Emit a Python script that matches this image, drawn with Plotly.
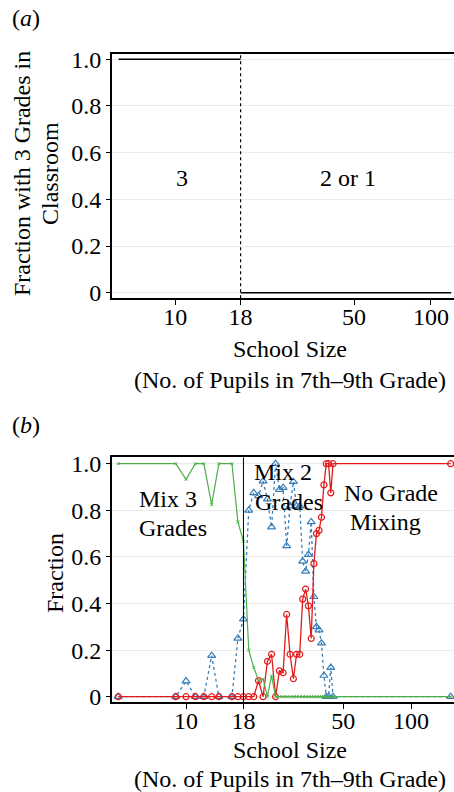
import plotly.graph_objects as go

W, H = 454, 792
FONT = "Liberation Serif, Times New Roman, serif"
FS = 24

# ---- panel (a): classroom composition vs. school size ----
threshold_size = 18
a_three_sizes = [6, 18]
a_three_frac = [1, 1]
a_other_sizes = [18, 120]
a_other_frac = [0, 0]

# ---- panel (b): fraction of schools by grade-mixing regime ----
sizes = [5, 9, 10, 11, 12, 13, 14, 16, 17, 18, 19, 20, 21, 22, 23, 24, 25,
         26, 27, 28, 29, 30, 31, 32, 33, 34, 35, 36, 37, 38, 39, 40, 41, 42,
         43, 44, 45, 150]
mix3 = [1, 1, 0.933, 1, 1, 0.824, 1, 1, 0.75, 0.667, 0.2, 0.125, 0.069,
        0.075, 0, 0.09, 0, 0, 0, 0, 0, 0, 0, 0, 0, 0, 0, 0, 0, 0, 0, 0, 0, 0,
        0, 0, 0, 0]
mix2 = [0, 0, 0.067, 0, 0, 0.176, 0, 0, 0.25, 0.333, 0.8, 0.875, 0.862,
        0.925, 0.848, 0.728, 1, 0.889, 0.897, 0.647, 0.818, 0.923, 0.818,
        0.818, 0.581, 0.538, 0.61, 0.75, 0.429, 0.3, 0.286, 0.23, 0.091, 0,
        0, 0.125, 0, 0]
nomix = [0, 0, 0, 0, 0, 0, 0, 0, 0, 0, 0, 0, 0.069, 0, 0.152, 0.182, 0,
         0.111, 0.103, 0.353, 0.182, 0.077, 0.182, 0.182, 0.419, 0.462, 0.39,
         0.25, 0.571, 0.7, 0.714, 0.77, 0.909, 1, 1, 0.875, 1, 1]

x_tickvals = [10, 18, 50, 100]
y_tickvals = [0, 0.2, 0.4, 0.6, 0.8, 1.0]
y_ticktext = ["0", "0.2", "0.4", "0.6", "0.8", "1.0"]

RED = "#E41A1C"
BLUE = "#377EB8"
GREEN = "#4DAF4A"

a_yrange = [-0.024, 1.0227]
b_yrange = [-0.024, 1.0275]

fig = go.Figure()

# panel (a)
fig.add_trace(go.Scatter(x=a_three_sizes, y=a_three_frac, mode="lines",
                         line=dict(color="black", width=1.6),
                         xaxis="x", yaxis="y", showlegend=False))
fig.add_trace(go.Scatter(x=a_other_sizes, y=a_other_frac, mode="lines",
                         line=dict(color="black", width=1.6),
                         xaxis="x", yaxis="y", showlegend=False))
fig.add_trace(go.Scatter(x=[threshold_size, threshold_size], y=a_yrange,
                         mode="lines",
                         line=dict(color="black", width=1.2, dash="dot"),
                         xaxis="x", yaxis="y", showlegend=False))

# panel (b)
fig.add_trace(go.Scatter(x=sizes, y=mix2, mode="lines+markers",
                         line=dict(color=BLUE, width=1.3, dash="dot"),
                         marker=dict(symbol="triangle-up-open", size=7,
                                     color=BLUE, line=dict(width=1.2)),
                         xaxis="x2", yaxis="y2", showlegend=False))
fig.add_trace(go.Scatter(x=sizes, y=nomix, mode="lines+markers",
                         line=dict(color=RED, width=1.3),
                         marker=dict(symbol="circle-open", size=6,
                                     color=RED, line=dict(width=1.2)),
                         xaxis="x2", yaxis="y2", showlegend=False))
fig.add_trace(go.Scatter(x=sizes, y=mix3, mode="lines+markers",
                         line=dict(color=GREEN, width=1.2),
                         marker=dict(symbol="x-thin", size=3,
                                     color=GREEN,
                                     line=dict(width=1, color=GREEN)),
                         xaxis="x2", yaxis="y2", showlegend=False))
fig.add_trace(go.Scatter(x=[threshold_size, threshold_size], y=b_yrange,
                         mode="lines", line=dict(color="black", width=1),
                         xaxis="x2", yaxis="y2", showlegend=False))

xdom = [112 / W, 1.0]
common_x = dict(type="log", tickvals=x_tickvals,
                ticktext=[str(v) for v in x_tickvals],
                showline=True, linecolor="black", linewidth=1.6, mirror=True,
                ticks="outside", ticklen=5, tickcolor="black", tickwidth=1,
                ticklabelstandoff=-9,
                showgrid=False, zeroline=False, automargin=False,
                tickfont=dict(family=FONT, size=FS, color="black"))
common_y = dict(tickvals=y_tickvals, ticktext=y_ticktext,
                showline=True, linecolor="black", linewidth=2,
                ticks="outside", ticklen=4, tickcolor="black", tickwidth=1,
                showgrid=True, gridcolor="#ebebeb", gridwidth=1,
                zeroline=False, automargin=False,
                tickfont=dict(family=FONT, size=FS, color="black"))

fig.update_layout(
    template="none",
    width=W, height=H,
    margin=dict(l=0, r=0, t=0, b=0, pad=0, autoexpand=False),
    paper_bgcolor="white", plot_bgcolor="white",
    hovermode=False,
    xaxis=dict(domain=xdom, anchor="y", range=[0.7524, 2.090], **common_x),
    yaxis=dict(domain=[1 - 298.3 / H, 1 - 54 / H], anchor="x",
               range=a_yrange, **common_y),
    xaxis2=dict(domain=xdom, anchor="y2", range=[0.671, 2.191], **common_x),
    yaxis2=dict(domain=[1 - 702.3 / H, 1 - 457.3 / H], anchor="x2",
                range=b_yrange, **common_y),
)


def label(text, px, py, anchor="center", angle=0):
    fig.add_annotation(text=text, x=px / W, y=1 - py / H, xref="paper",
                       yref="paper", xanchor=anchor, yanchor="middle",
                       showarrow=False, textangle=angle,
                       font=dict(family=FONT, size=FS, color="black"))


# panel tags
label("(<i>a</i>)", 10, 18, anchor="left")
label("(<i>b</i>)", 10, 425, anchor="left")

# panel (a) text
label("3", 182, 178)
label("2 or 1", 348, 178)
label("Fraction with 3 Grades in", 22, 174, angle=-90)
label("Classroom", 50, 174, angle=-90)
label("School Size", 290, 349)
label("(No. of Pupils in 7th\u20139th Grade)", 290, 380)

# panel (b) text
label("Mix 3", 137, 499, anchor="left")
label("Grades", 137, 528, anchor="left")
label("Mix 2", 252, 472, anchor="left")
label("Grades", 253, 502, anchor="left")
label("No Grade", 391, 493)
label("Mixing", 385, 522)
label("Fraction", 55, 573, angle=-90)
label("School Size", 290, 750)
label("(No. of Pupils in 7th\u20139th Grade)", 290, 779)

fig.write_html("out.html")
